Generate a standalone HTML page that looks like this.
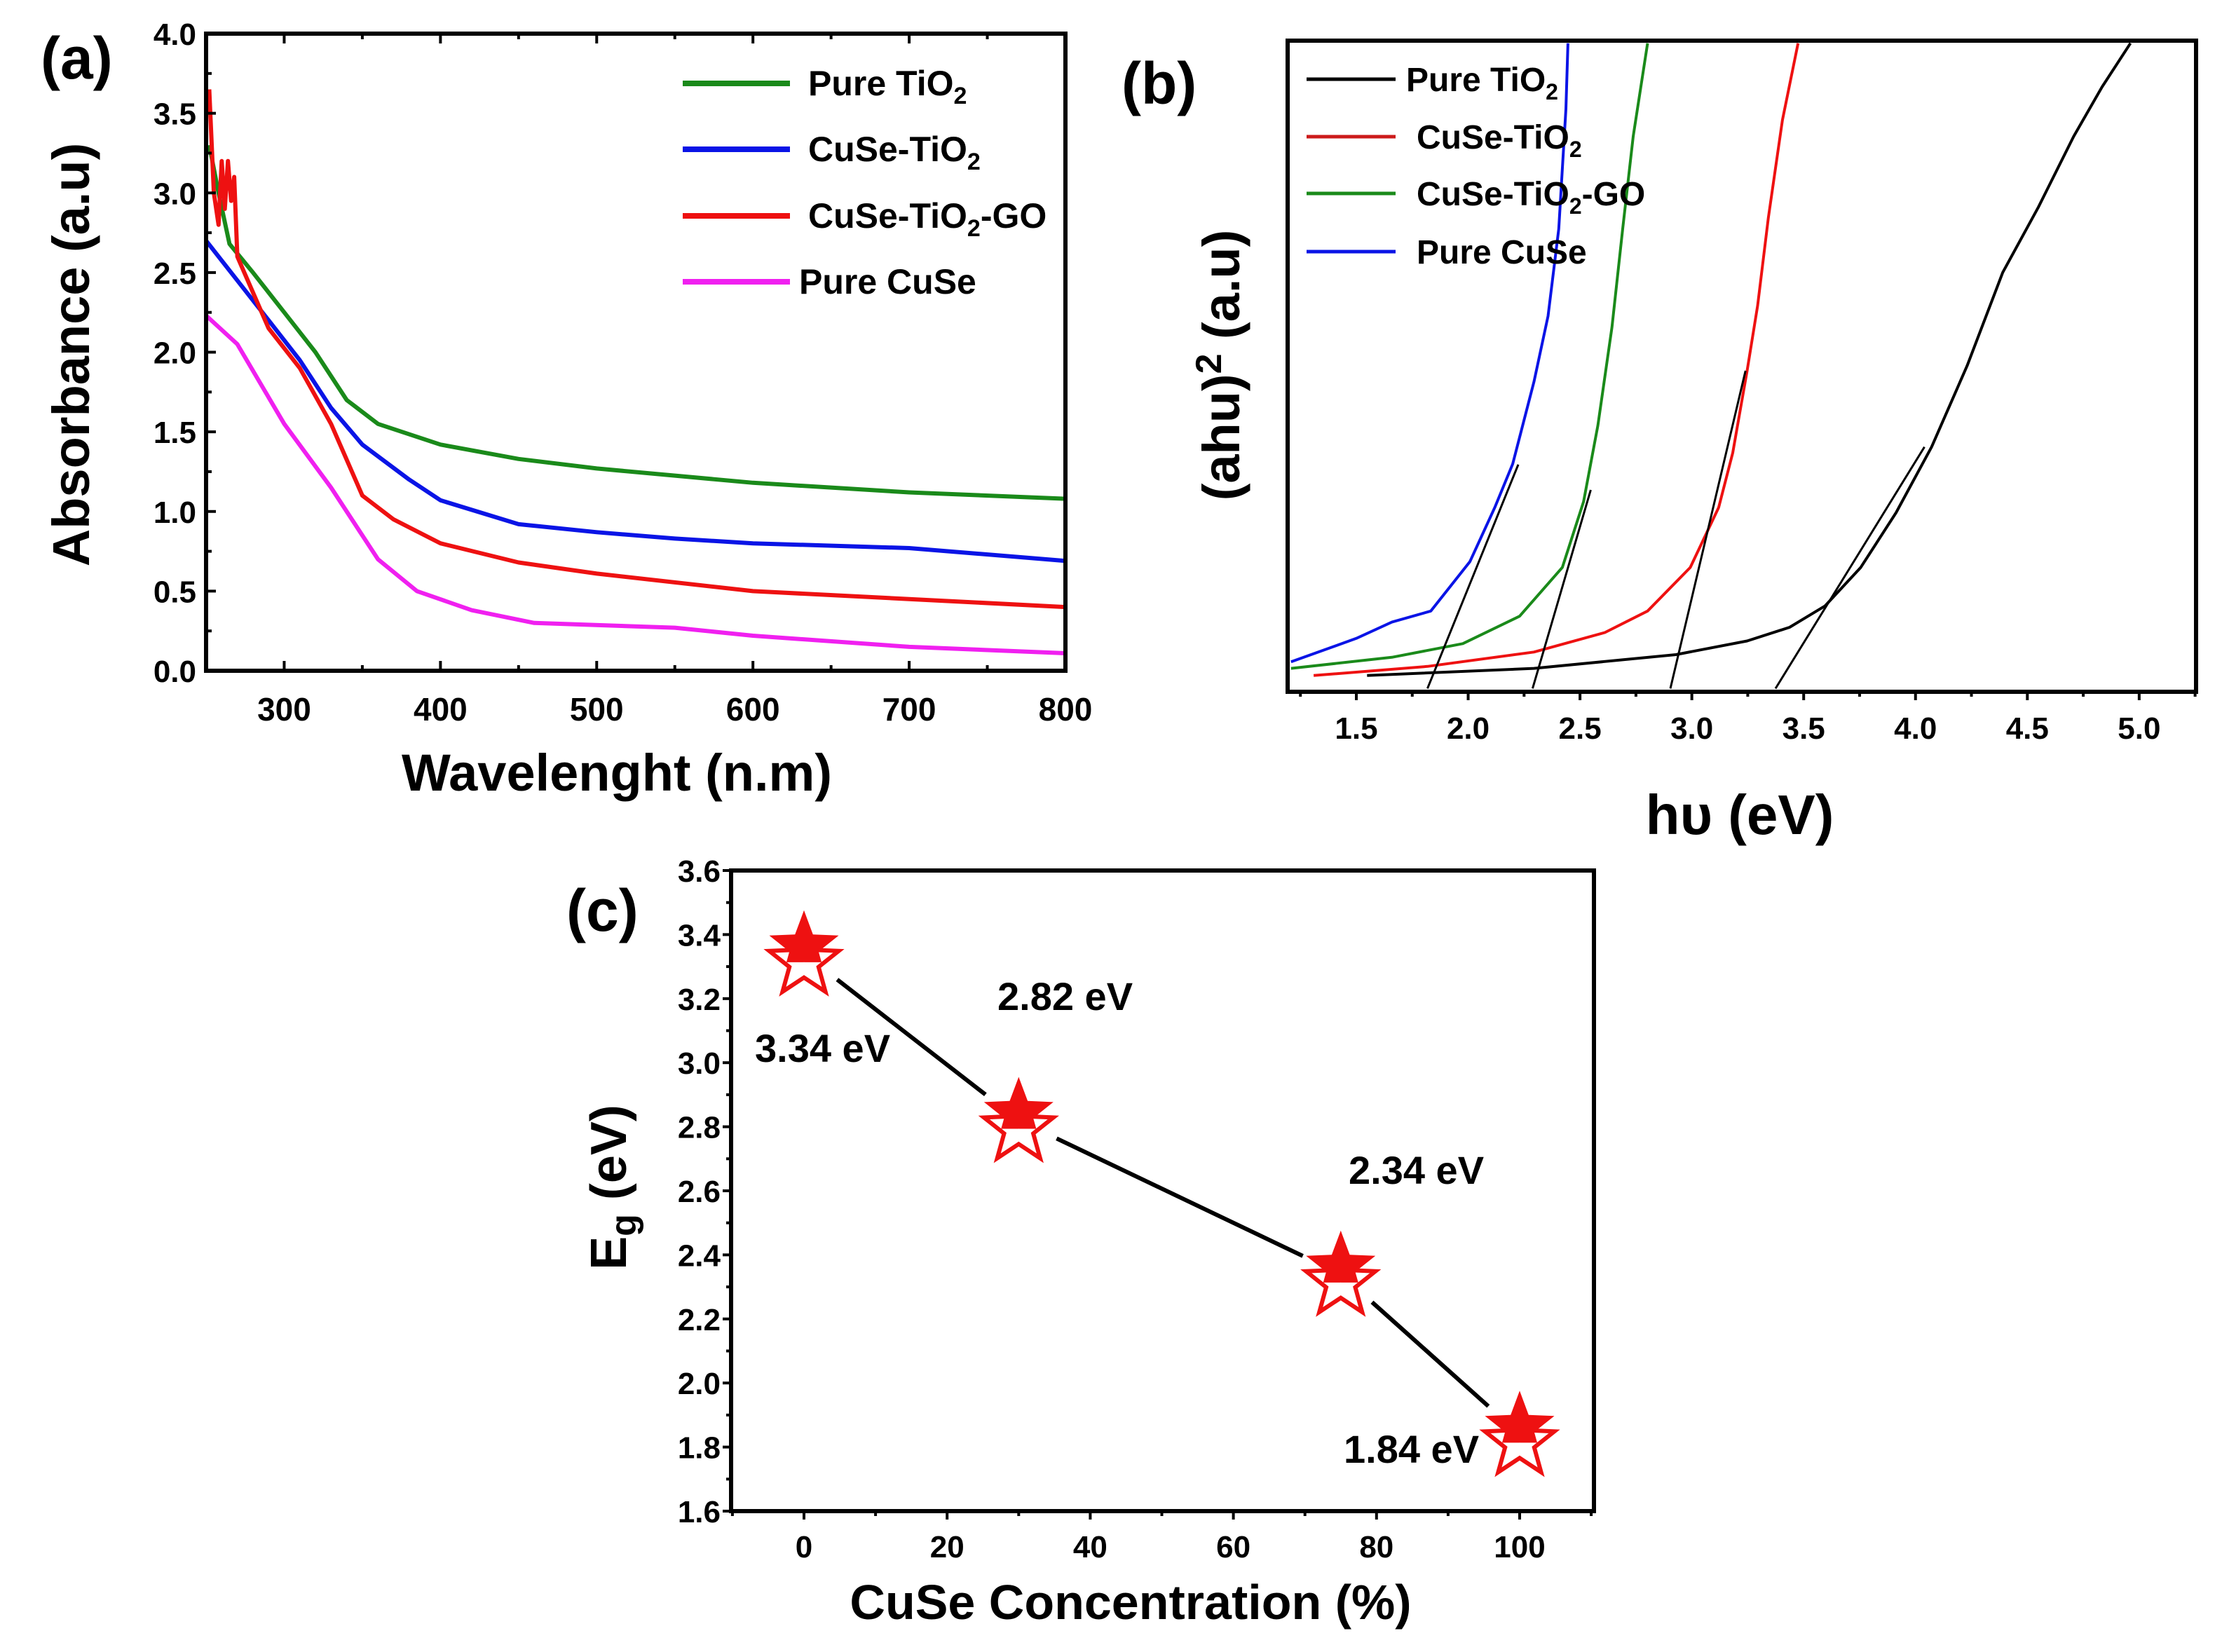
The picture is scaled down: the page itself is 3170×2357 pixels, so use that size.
<!DOCTYPE html>
<html><head><meta charset="utf-8"><style>
html,body{margin:0;padding:0;background:#fff}
svg{display:block;font-family:"Liberation Sans",sans-serif;font-weight:bold}
</style></head><body>
<svg id="s" width="3170" height="2357" viewBox="0 0 3170 2357" xmlns="http://www.w3.org/2000/svg">
<g id="ga"></g>
<g id="gb"></g>
<g id="gc"></g>
</svg>
<script>
// ---- Panel (a) data ----
const aXTicks=[300,400,500,600,700,800];
const aYTicks=[0.0,0.5,1.0,1.5,2.0,2.5,3.0,3.5,4.0];
const aGreenX=[252,258,265,280,300,320,340,360,400,450,500,600,700,800];
const aGreenY=[3.3,3.0,2.68,2.5,2.25,2.0,1.7,1.55,1.42,1.33,1.27,1.18,1.12,1.08];
const aBlueX=[250,270,290,310,330,350,380,400,450,500,550,600,700,800];
const aBlueY=[2.7,2.45,2.2,1.95,1.65,1.42,1.2,1.07,0.92,0.87,0.83,0.8,0.77,0.69];
const aRedX=[252,255,258,260,262,264,266,268,270,290,310,330,350,370,400,450,500,600,700,800];
const aRedY=[3.65,3.0,2.8,3.2,2.9,3.2,2.95,3.1,2.6,2.15,1.9,1.55,1.1,0.95,0.8,0.68,0.61,0.5,0.45,0.4];
const aPinkX=[250,270,300,330,360,385,420,460,550,600,700,800];
const aPinkY=[2.23,2.05,1.55,1.15,0.7,0.5,0.38,0.3,0.27,0.22,0.15,0.11];
// ---- Panel (b) data ----
const bXTicks=[1.5,2.0,2.5,3.0,3.5,4.0,4.5,5.0];
const bBlueX=[1.208,1.5,1.659,1.833,2.008,2.119,2.199,2.294,2.357,2.405,2.437,2.446];
const bBlueY=[0.046,0.082,0.107,0.124,0.2,0.283,0.35,0.476,0.577,0.711,0.895,0.996];
const bGreenX=[1.208,1.659,1.976,2.23,2.421,2.516,2.58,2.643,2.691,2.738,2.802];
const bGreenY=[0.036,0.053,0.074,0.116,0.191,0.292,0.409,0.56,0.711,0.853,0.996];
const bRedX=[1.309,1.818,2.294,2.611,2.802,2.993,3.12,3.183,3.247,3.294,3.342,3.405,3.475];
const bRedY=[0.025,0.039,0.061,0.091,0.124,0.191,0.283,0.367,0.493,0.593,0.728,0.878,0.996];
const bBlackX=[1.548,2.294,2.929,3.247,3.437,3.596,3.755,3.913,4.072,4.231,4.39,4.549,4.707,4.834,4.961];
const bBlackY=[0.025,0.036,0.057,0.078,0.099,0.132,0.191,0.275,0.376,0.501,0.644,0.744,0.853,0.929,0.996];
const bTangentX1=[1.818,2.288,2.904,3.374];
const bTangentY1=[0.005,0.005,0.005,0.005];
const bTangentX2=[2.224,2.548,3.24,4.04];
const bTangentY2=[0.349,0.31,0.493,0.376];
// ---- Panel (c) data ----
const cXTicks=[0,20,40,60,80,100];
const cYTicks=[1.6,1.8,2.0,2.2,2.4,2.6,2.8,3.0,3.2,3.4,3.6];
const cConc=[0,30,75,100];
const cEg=[3.34,2.82,2.34,1.84];
const cLabels=["3.34 eV","2.82 eV","2.34 eV","1.84 eV"];

const NS="http://www.w3.org/2000/svg";
function mk(p,tag,at,txt){const e=document.createElementNS(NS,tag);for(const k in at)e.setAttribute(k,at[k]);if(txt!=null)e.textContent=txt;p.appendChild(e);return e;}
function path(xs,ys,sx,sy){return xs.map((x,i)=>(i?'L':'M')+sx(x).toFixed(1)+' '+sy(ys[i]).toFixed(1)).join(' ');}

// ===== Panel a =====
(function(){
const g=document.getElementById('ga');
const L=294,R=1520,T=48,B=957;
const sx=v=>L+(v-250)/550*(R-L), sy=v=>B-v/4*(B-T);
const series=[[aGreenX,aGreenY,'#1a8a1a','series-pure-tio2'],[aBlueX,aBlueY,'#0a14e6','series-cuse-tio2'],[aRedX,aRedY,'#ee1111','series-cuse-tio2-go'],[aPinkX,aPinkY,'#f020f0','series-pure-cuse']];
series.forEach(s=>{const e=mk(g,'path',{d:path(s[0],s[1],sx,sy),fill:'none',stroke:s[2],'stroke-width':6,'stroke-linejoin':'round'});

});
const f=mk(g,'rect',{x:L,y:T,width:R-L,height:B-T,fill:'none',stroke:'#000','stroke-width':6});


for(let v=250;v<=800;v+=50){const x=sx(v);const big=v%100==0;mk(g,'line',{x1:x,x2:x,y1:B,y2:B-(big?14:8),stroke:'#000','stroke-width':4});mk(g,'line',{x1:x,x2:x,y1:T,y2:T+(big?14:8),stroke:'#000','stroke-width':4});}
for(let v=0;v<=4.001;v+=0.25){const y=sy(v);mk(g,'line',{x1:L,x2:L+(Math.abs(v*2-Math.round(v*2))<0.01?14:8),y1:y,y2:y,stroke:'#000','stroke-width':4});}
aXTicks.forEach(v=>{const t=mk(g,'text',{x:sx(v),y:1028,'font-size':46,'text-anchor':'middle'},v);

});
aYTicks.forEach(v=>{const t=mk(g,'text',{x:280,y:sy(v)+16,'font-size':44,'text-anchor':'end'},v.toFixed(1));

});
const xt=mk(g,'text',{x:880,y:1128,'font-size':74,'text-anchor':'middle'},'Wavelenght (n.m)');


const yt=mk(g,'text',{x:0,y:0,'font-size':74,'text-anchor':'middle',transform:'translate(127,506) rotate(-90)'},'Absorbance (a.u)');


const pl=mk(g,'text',{x:58,y:112,'font-size':84},'(a)');


const leg=[[119,'#1a8a1a','Pure TiO','2',''],[213,'#0a14e6','CuSe-TiO','2',''],[308,'#ee1111','CuSe-TiO','2','-GO'],[402,'#f020f0','Pure CuSe','','']];
leg.forEach((l,i)=>{const e=mk(g,'line',{x1:974,x2:1127,y1:l[0],y2:l[0],stroke:l[1],'stroke-width':8});


const t=mk(g,'text',{x:i==3?1140:1153,y:l[0]+17,'font-size':50});
t.appendChild(document.createTextNode(l[2]));if(l[3]){mk(t,'tspan',{'font-size':34,dy:12},l[3]);}if(l[4]){mk(t,'tspan',{dy:-12},l[4]);}});
})();

// ===== Panel b =====
(function(){
const g=document.getElementById('gb');
const L=1837,R=3133,T=58,B=987;
const sx=v=>1935+(v-1.5)*319.1, sy=v=>B-v*(B-T);
const series=[[bBlackX,bBlackY,'#000','series-pure-tio2'],[bRedX,bRedY,'#ee1111','series-cuse-tio2'],[bGreenX,bGreenY,'#1a8a1a','series-cuse-tio2-go'],[bBlueX,bBlueY,'#0a14e6','series-pure-cuse']];
series.forEach(s=>{const e=mk(g,'path',{d:path(s[0],s[1],sx,sy),fill:'none',stroke:s[2],'stroke-width':4,'stroke-linejoin':'round'});

});
bTangentX1.forEach((x,i)=>{const e=mk(g,'line',{x1:sx(x),y1:sy(bTangentY1[i]),x2:sx(bTangentX2[i]),y2:sy(bTangentY2[i]),stroke:'#000','stroke-width':3});

});
const f=mk(g,'rect',{x:L,y:T,width:R-L,height:B-T,fill:'none',stroke:'#000','stroke-width':6});


for(let v=1.25;v<=5.25;v+=0.25){const x=sx(v);const big=Math.abs(v*2-Math.round(v*2))<0.01;mk(g,'line',{x1:x,x2:x,y1:B,y2:B+(big?12:7),stroke:'#000','stroke-width':4});}
bXTicks.forEach(v=>{const t=mk(g,'text',{x:sx(v),y:1054,'font-size':44,'text-anchor':'middle'},v.toFixed(1));

});
const xt=mk(g,'text',{x:2482,y:1190,'font-size':80,'text-anchor':'middle'},'hυ (eV)');


const yt=mk(g,'text',{x:0,y:0,'font-size':74,'text-anchor':'middle',transform:'translate(1768,521) rotate(-90)'});


yt.appendChild(document.createTextNode('(ahu)'));mk(yt,'tspan',{'font-size':52,dy:-26},'2');mk(yt,'tspan',{dy:26},' (a.u)');
const pl=mk(g,'text',{x:1600,y:148,'font-size':84},'(b)');


const leg=[[113,'#000','Pure TiO','2','',2006],[195,'#cc1a1a','CuSe-TiO','2','',2021],[276,'#1a8a1a','CuSe-TiO','2','-GO',2021],[359,'#0a14e6','Pure CuSe','','',2021]];
leg.forEach(l=>{const e=mk(g,'line',{x1:1864,x2:1991,y1:l[0],y2:l[0],stroke:l[1],'stroke-width':5});


const t=mk(g,'text',{x:l[5],y:l[0]+17,'font-size':48});
t.appendChild(document.createTextNode(l[2]));if(l[3]){mk(t,'tspan',{'font-size':32,dy:12},l[3]);}if(l[4]){mk(t,'tspan',{dy:-12},l[4]);}});
})();

// ===== Panel c =====
(function(){
const g=document.getElementById('gc');
const L=1043,R=2274,T=1242,B=2156;
const sx=v=>1147+v*10.21, sy=v=>B-(v-1.6)/2*(B-T);
for(let i=0;i<cConc.length-1;i++){const x1=sx(cConc[i]),y1=sy(cEg[i]),x2=sx(cConc[i+1]),y2=sy(cEg[i+1]);const dx=x2-x1,dy=y2-y1,d=Math.hypot(dx,dy),g1=60/d;
const e=mk(g,'line',{x1:x1+dx*g1,y1:y1+dy*g1,x2:x2-dx*g1,y2:y2-dy*g1,stroke:'#000','stroke-width':6});

}
function star(cx,cy,r){let p='';for(let k=0;k<10;k++){const a=-Math.PI/2+k*Math.PI/5,rr=k%2?r*0.42:r;p+=(k?'L':'M')+(cx+rr*Math.cos(a)).toFixed(1)+' '+(cy+rr*Math.sin(a)).toFixed(1);}return p+'Z';}
cConc.forEach((c,i)=>{const x=sx(c),y=sy(cEg[i]);
const o=mk(g,'path',{d:star(x,y+12,52),fill:'#fff',stroke:'#ee1111','stroke-width':6});


const s=mk(g,'path',{d:star(x,y-10,52),fill:'#ee1111',stroke:'none','clip-path':'url(#cliptop'+i+')'});


const cp=mk(g,'clipPath',{id:'cliptop'+i});mk(cp,'rect',{x:x-70,y:y-80,width:140,height:92});});
const lx=[1077,1423,1924,1917],ly=[1515,1441,1689,2087];
cLabels.forEach((t,i)=>{const e=mk(g,'text',{x:lx[i],y:ly[i],'font-size':56},t);

});
const f=mk(g,'rect',{x:L,y:T,width:R-L,height:B-T,fill:'none',stroke:'#000','stroke-width':6});


for(let v=-10;v<=110;v+=10){const x=sx(v);mk(g,'line',{x1:x,x2:x,y1:B,y2:B+(v%20==0?12:7),stroke:'#000','stroke-width':4});}
for(let v=1.6;v<=3.601;v+=0.1){const y=sy(v);mk(g,'line',{x1:L,x2:L-((Math.round(v*10)%2==0)?12:7),y1:y,y2:y,stroke:'#000','stroke-width':4});}
cXTicks.forEach(v=>{const t=mk(g,'text',{x:sx(v),y:2222,'font-size':44,'text-anchor':'middle'},v);

});
cYTicks.forEach(v=>{const t=mk(g,'text',{x:1028,y:sy(v)+16,'font-size':44,'text-anchor':'end'},v.toFixed(1));

});
const xt=mk(g,'text',{x:1613,y:2310,'font-size':70,'text-anchor':'middle'},'CuSe Concentration (%)');


const yt=mk(g,'text',{x:0,y:0,'font-size':72,'text-anchor':'middle',transform:'translate(893,1694) rotate(-90)'});


yt.appendChild(document.createTextNode('E'));mk(yt,'tspan',{'font-size':52,dy:14},'g');mk(yt,'tspan',{dy:-14},' (eV)');
const pl=mk(g,'text',{x:808,y:1328,'font-size':84},'(c)');


})();
</script>
</body></html>
